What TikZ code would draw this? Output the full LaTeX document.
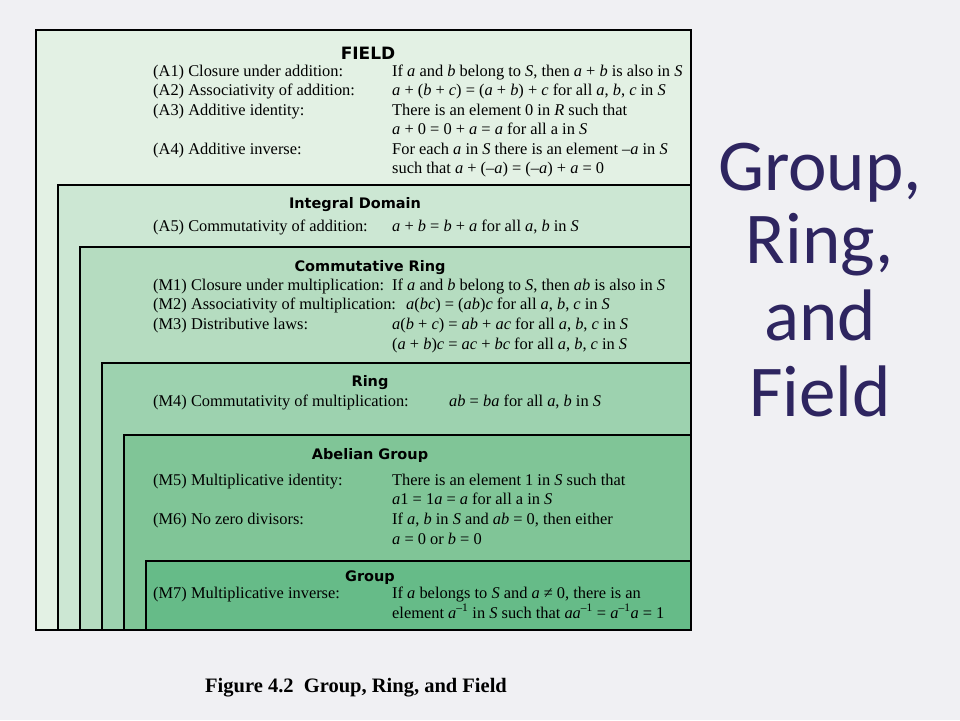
\documentclass[tikz,border=0pt]{standalone}
\usepackage{fontspec}
\setmainfont{Liberation Serif}
\newfontfamily\headf{DejaVu Sans}
\newfontfamily\titf{Carlito}
\newcommand{\ii}[1]{\textit{#1}}
\definecolor{bgc}{HTML}{F0F0F3}
\definecolor{cA}{HTML}{E3F1E4}
\definecolor{cB}{HTML}{CCE7D3}
\definecolor{cC}{HTML}{B5DCC0}
\definecolor{cD}{HTML}{9DD2AF}
\definecolor{cE}{HTML}{80C597}
\definecolor{cF}{HTML}{66BB88}
\definecolor{titc}{HTML}{2E2560}
\begin{document}
\begin{tikzpicture}[x=1pt,y=-1pt,
  lay/.style={draw=black,line width=1.6pt},
  hd/.style={font=\headf\bfseries\fontsize{14.5}{16}\selectfont,anchor=base},
  tx/.style={font=\fontsize{16.4}{18}\selectfont,anchor=base west,inner sep=0pt},
  tt/.style={font=\titf\fontsize{73}{78}\selectfont,text=titc,anchor=base}]
\path[fill=bgc] (0,0) rectangle (960,720);
\useasboundingbox (0,0) rectangle (960,720);
\path[lay,fill=cA] (36,30) rectangle (691,630);
\path[lay,fill=cB] (58,185) rectangle (691,630);
\path[lay,fill=cC] (80,247) rectangle (691,630);
\path[lay,fill=cD] (102,363) rectangle (691,630);
\path[lay,fill=cE] (124,435) rectangle (691,630);
\path[lay,fill=cF] (146,561) rectangle (691,630);
% FIELD
\node[hd,font=\headf\bfseries\fontsize{17}{18}\selectfont] (h1) at (368,59) {FIELD};
\node[tx] (a1) at (153,76) {(A1) Closure under addition:};
\node[tx] (a1r) at (392,76) {If \ii{a} and \ii{b} belong to \ii{S}, then \ii{a} + \ii{b} is also in \ii{S}};
\node[tx] (a2) at (153,95) {(A2) Associativity of addition:};
\node[tx] (a2r) at (392,95) {\ii{a} + (\ii{b} + \ii{c}) = (\ii{a} + \ii{b}) + \ii{c} for all \ii{a}, \ii{b}, \ii{c} in \ii{S}};
\node[tx] (a3) at (153,115) {(A3) Additive identity:};
\node[tx] (a3r) at (392,115) {There is an element 0 in \ii{R} such that};
\node[tx] (a3s) at (392,134) {\ii{a} + 0 = 0 + \ii{a} = \ii{a} for all a in \ii{S}};
\node[tx] (a4) at (153,154) {(A4) Additive inverse:};
\node[tx] (a4r) at (392,154) {For each \ii{a} in \ii{S} there is an element –\ii{a} in \ii{S}};
\node[tx] (a4s) at (392,173) {such that \ii{a} + (–\ii{a}) = (–\ii{a}) + \ii{a} = 0};
% Integral domain
\node[hd] (h2) at (355,208) {Integral Domain};
\node[tx] (a5) at (153,231) {(A5) Commutativity of addition:};
\node[tx] (a5r) at (392,231) {\ii{a} + \ii{b} = \ii{b} + \ii{a} for all \ii{a}, \ii{b} in \ii{S}};
% Commutative ring
\node[hd] (h3) at (370,271) {Commutative Ring};
\node[tx] (m1) at (153,290) {(M1) Closure under multiplication:};
\node[tx] (m1r) at (392,290) {If \ii{a} and \ii{b} belong to \ii{S}, then \ii{ab} is also in \ii{S}};
\node[tx] (m2) at (153,309) {(M2) Associativity of multiplication:};
\node[tx] (m2r) at (406,309) {\ii{a}(\ii{bc}) = (\ii{ab})\ii{c} for all \ii{a}, \ii{b}, \ii{c} in \ii{S}};
\node[tx] (m3) at (153,329) {(M3) Distributive laws:};
\node[tx] (m3r) at (392,329) {\ii{a}(\ii{b} + \ii{c}) = \ii{ab} + \ii{ac} for all \ii{a}, \ii{b}, \ii{c} in \ii{S}};
\node[tx] (m3s) at (392,349) {(\ii{a} + \ii{b})\ii{c} = \ii{ac} + \ii{bc} for all \ii{a}, \ii{b}, \ii{c} in \ii{S}};
% Ring
\node[hd] (h4) at (370,386) {Ring};
\node[tx] (m4) at (153,406) {(M4) Commutativity of multiplication:};
\node[tx] (m4r) at (449,406) {\ii{ab} = \ii{ba} for all \ii{a}, \ii{b} in \ii{S}};
% Abelian group
\node[hd] (h5) at (370,459) {Abelian Group};
\node[tx] (m5) at (153,485) {(M5) Multiplicative identity:};
\node[tx] (m5r) at (392,485) {There is an element 1 in \ii{S} such that};
\node[tx] (m5s) at (392,504) {\ii{a}1 = 1\ii{a} = \ii{a} for all a in \ii{S}};
\node[tx] (m6) at (153,524) {(M6) No zero divisors:};
\node[tx] (m6r) at (392,524) {If \ii{a}, \ii{b} in \ii{S} and \ii{ab} = 0, then either};
\node[tx] (m6s) at (392,544) {\ii{a} = 0 or \ii{b} = 0};
% Group
\node[hd] (h6) at (370,581) {Group};
\node[tx] (m7) at (153,598) {(M7) Multiplicative inverse:};
\node[tx] (m7r) at (392,598) {If \ii{a} belongs to \ii{S} and \ii{a} ≠ 0, there is an};
\node[tx] (m7s) at (392,618) {element \ii{a}\textsuperscript{–1} in \ii{S} such that \ii{aa}\textsuperscript{–1} = \ii{a}\textsuperscript{–1}\ii{a} = 1};
% caption
\node[tx,font=\bfseries\fontsize{20.5}{22}\selectfont] (cap) at (205,692) {Figure 4.2\enspace Group, Ring, and Field};
% title
\node[tt] (t1) at (820,190) {Group,};
\node[tt] (t2) at (820,263) {Ring,};
\node[tt] (t3) at (820,340) {and};
\node[tt] (t4) at (820,416) {Field};
\end{tikzpicture}
\end{document}
